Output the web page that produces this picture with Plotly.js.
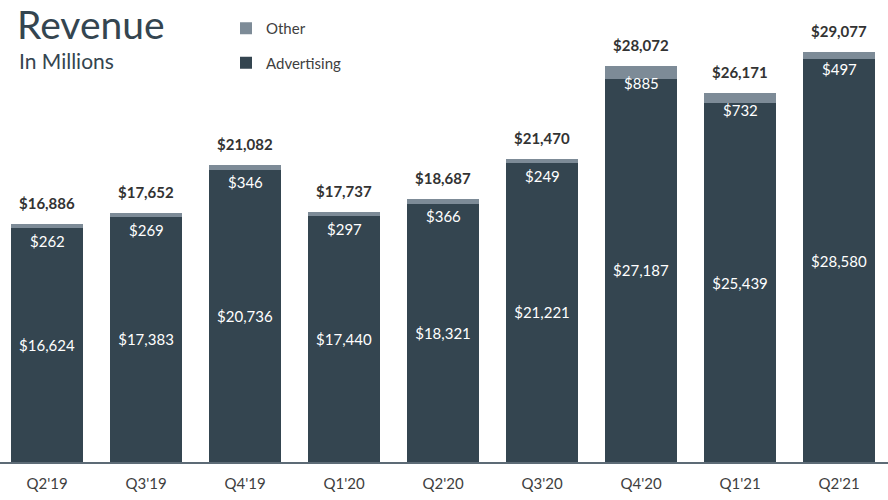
<!DOCTYPE html>
<html>
<head>
<meta charset="utf-8">
<script src="https://cdn.plot.ly/plotly-3.0.1.min.js"></script>
<style>html,body{margin:0;padding:0;background:#fff;}#chart{width:888px;height:500px;}</style>
</head>
<body>
<div id="chart"></div>
<script>
const quarters = ["Q2'19","Q3'19","Q4'19","Q1'20","Q2'20","Q3'20","Q4'20","Q1'21","Q2'21"];
const advertising = [16624,17383,20736,17440,18321,21221,27187,25439,28580];
const other = [262,269,346,297,366,249,885,732,497];
const totals = [16886,17652,21082,17737,18687,21470,28072,26171,29077];

const fmt = v => '$' + v.toLocaleString('en-US');
const FONT = 'Lato, "Open Sans", sans-serif';
const DARK = '#344550';
const OTHER = '#7d8b97';

const traces = [
  {
    type: 'bar', name: 'Advertising', x: quarters, y: advertising,
    marker: {color: DARK, line: {width: 0}},
    text: advertising.map(fmt), textposition: 'inside', insidetextanchor: 'middle',
    textangle: 0, constraintext: 'none',
    textfont: {family: FONT, size: 15, color: '#ffffff'},
    width: 0.72, hoverinfo: 'x+y', legendgroup: 'a', legendrank: 2
  },
  {
    type: 'bar', name: 'Other', x: quarters, y: other,
    marker: {color: OTHER, line: {width: 0}},
    textposition: 'none',
    width: 0.72, hoverinfo: 'x+y', legendgroup: 'o', legendrank: 1
  }
];

const annotations = [];
quarters.forEach((q, i) => {
  annotations.push({
    x: q, y: totals[i], xref: 'x', yref: 'y', text: '<b>' + fmt(totals[i]) + '</b>',
    showarrow: false, yshift: 21, font: {family: FONT, size: 15, color: '#333333'}
  });
  annotations.push({
    x: q, y: totals[i], xref: 'x', yref: 'y', text: fmt(other[i]),
    showarrow: false, yshift: -17, font: {family: FONT, size: 15, color: '#ffffff'}
  });
});
annotations.push({
  text: 'Revenue', xref: 'paper', yref: 'paper', x: 15/888, y: 1 - 24/462,
  xanchor: 'left', yanchor: 'middle', showarrow: false,
  font: {family: FONT, size: 39, color: '#344550'}
});
annotations.push({
  text: 'In Millions', xref: 'paper', yref: 'paper', x: 17/888, y: 1 - 60/462,
  xanchor: 'left', yanchor: 'middle', showarrow: false,
  font: {family: FONT, size: 21, color: '#344550'}
});

const layout = {
  width: 888, height: 500,
  margin: {l: 0, r: 0, t: 0, b: 38, pad: 0},
  paper_bgcolor: '#ffffff', plot_bgcolor: '#ffffff',
  barmode: 'stack',
  font: {family: FONT, color: '#404040'},
  showlegend: true,
  legend: {
    x: 226/888, y: 1 - 12/462, xanchor: 'left', yanchor: 'top',
    traceorder: 'grouped', tracegroupgap: 12,
    font: {family: FONT, size: 15, color: '#404040'},
    bgcolor: 'rgba(0,0,0,0)'
  },
  xaxis: {
    type: 'category', range: [-0.475, 8.495], fixedrange: true,
    showline: true, linecolor: '#5d6b76', linewidth: 1.5,
    showgrid: false, zeroline: false, ticks: '', ticklabelstandoff: 7,
    tickfont: {family: FONT, size: 15, color: '#404040'}
  },
  yaxis: {
    range: [0, 32766], showticklabels: false, showgrid: false, zeroline: false,
    showline: false, fixedrange: true
  },
  annotations: annotations
};

Plotly.newPlot('chart', traces, layout, {displayModeBar: false, staticPlot: true});
</script>
</body>
</html>
